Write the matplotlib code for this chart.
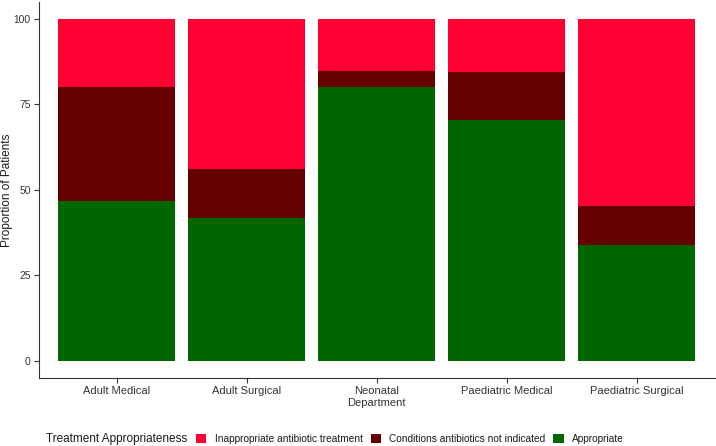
import matplotlib

matplotlib.use("Agg")
import matplotlib.pyplot as plt
import numpy as np

departments = ["Adult Medical", "Adult Surgical", "Neonatal\nDepartment",
               "Paediatric Medical", "Paediatric Surgical"]
appropriate = [46.7, 41.8, 80.0, 70.5, 34.0]
not_indicated = [33.3, 14.2, 4.8, 13.8, 11.3]
inappropriate = [20.0, 44.0, 15.2, 15.7, 54.7]

RED = "#FF0033"
DARK = "#660000"
GREEN = "#006600"
INK = "#1A1A1A"
TICK = "#333333"

plt.rcParams["font.family"] = ["Liberation Sans", "DejaVu Sans"]

fig = plt.figure(figsize=(7.16, 4.46), dpi=100)
ax = fig.add_axes([38.7 / 716, 1 - 378.2 / 446, 676 / 716, 376.6 / 446])

x = np.arange(1, len(departments) + 1)
width = 0.9
app = np.array(appropriate)
ni = np.array(not_indicated)
ina = np.array(inappropriate)
b_app = ax.bar(x, app, width, color=GREEN, label="Appropriate")
b_ni = ax.bar(x, ni, width, bottom=app, color=DARK, label="Conditions antibiotics not indicated")
b_ina = ax.bar(x, ina, width, bottom=app + ni, color=RED, label="Inappropriate antibiotic treatment")

ax.set_xlim(0.4, len(departments) + 0.6)
ax.set_ylim(-5, 105)
ax.set_yticks([0, 25, 50, 75, 100])
ax.set_xticks(x, departments)
ax.tick_params(axis="both", labelcolor=TICK, length=3.5, width=0.8, color=TICK, pad=2.2)
ax.tick_params(axis="x", labelsize=8)
ax.tick_params(axis="y", labelsize=7.4)
ax.set_ylabel("Proportion of Patients", fontsize=8.5, color=INK)
ax.yaxis.set_label_coords(-0.0385, 0.5)
for side in ("top", "right"):
    ax.spines[side].set_visible(False)
for side in ("left", "bottom"):
    ax.spines[side].set_linewidth(0.8)
    ax.spines[side].set_color(TICK)

fig.text(46 / 716, 1 - 439 / 446, "Treatment Appropriateness", fontsize=8.5, color=INK, va="center")
fig.legend(
    handles=[b_ina, b_ni, b_app],
    loc="center left",
    bbox_to_anchor=(196 / 716, 1 - 439 / 446),
    ncol=3,
    frameon=False,
    fontsize=7.3,
    borderpad=0,
    borderaxespad=0,
    handlelength=1.0,
    handleheight=1.0,
    handletextpad=0.85,
    columnspacing=0.77,
    labelcolor=INK,
)

fig.savefig("out.png", dpi=100)
